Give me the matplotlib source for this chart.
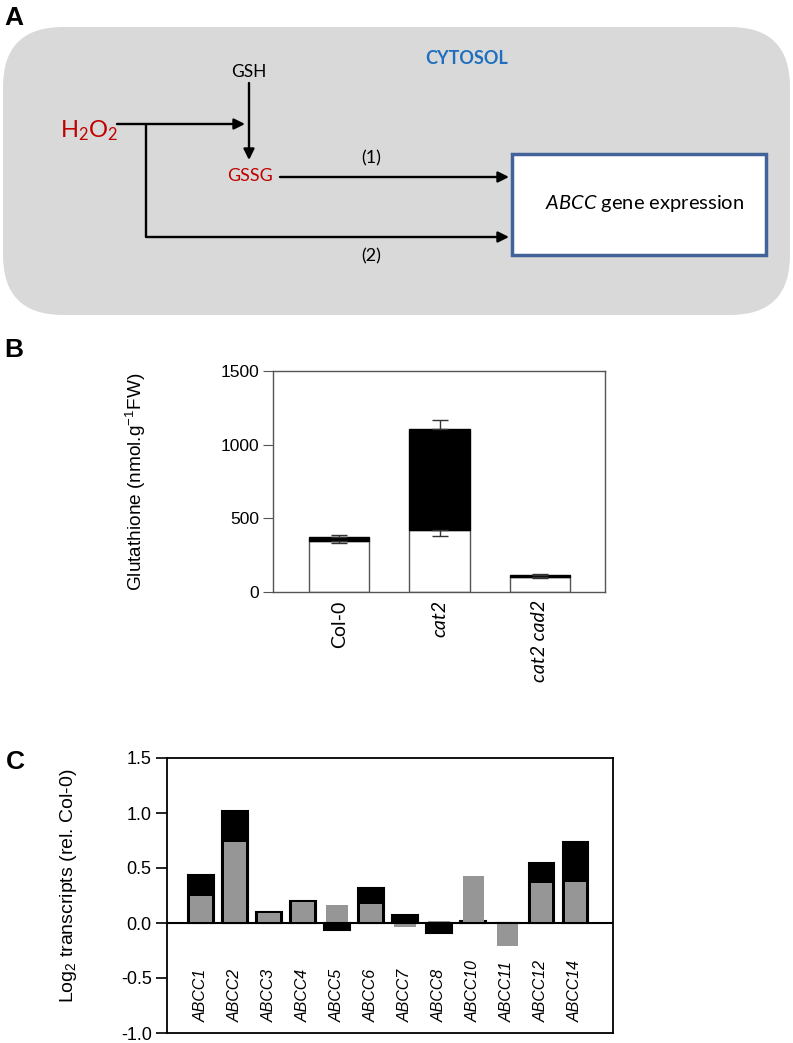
import numpy as np
import matplotlib.pyplot as plt
from matplotlib.patches import FancyBboxPatch, Rectangle

plt.rcParams['font.family'] = ['Liberation Sans', 'DejaVu Sans']
plt.rcParams['mathtext.fontset'] = 'custom'
plt.rcParams['mathtext.it'] = 'Lato:italic'
plt.rcParams['mathtext.rm'] = 'Lato'

# panel B: glutathione
genotypes = ["Col-0", "cat2", "cat2 cad2"]
gsh = np.array([347, 419, 103])        # reduced (white)
gssg = np.array([27, 689, 10])         # oxidised (black), stacked
gsh_err = np.array([14, 38, 8])
total_err = np.array([16, 59, 8])

# panel C: ABCC transcripts
genes = ["ABCC1", "ABCC2", "ABCC3", "ABCC4", "ABCC5", "ABCC6", "ABCC7",
         "ABCC8", "ABCC10", "ABCC11", "ABCC12", "ABCC14"]
cat2_vals = [0.44, 1.02, 0.10, 0.20, -0.06, 0.32, 0.07, -0.09, 0.02, 0.0, 0.55, 0.74]
other_vals = [0.25, 0.74, 0.09, 0.19, 0.16, 0.17, -0.04, 0.02, 0.43, -0.21, 0.36, 0.37]

W, H = 793, 1043
fig = plt.figure(figsize=(W / 100, H / 100), dpi=100)

# ---- panel A: scheme, drawn in pixel coordinates
ax0 = fig.add_axes([0, 0, 1, 1])
ax0.set_xlim(0, W)
ax0.set_ylim(H, 0)
ax0.axis("off")

ax0.add_patch(FancyBboxPatch((3, 27), 787, 288,
                             boxstyle="round,pad=0,rounding_size=60",
                             fc="#d9d9d9", ec="none"))
ax0.add_patch(Rectangle((512, 154), 254, 101, fc="white", ec="#41639a", lw=2.5))

diag = dict(family="Lato", ha="center", va="center")
red = "#c00000"
ax0.text(467, 59, "CYTOSOL", color="#1f6fbf", fontsize=13, weight="bold", **diag)
ax0.text(249, 72, "GSH", color="black", fontsize=12.5, **diag)
ax0.text(89, 131, r"$\mathregular{H_2O_2}$", color=red, fontsize=17, **diag)
ax0.text(250, 176, "GSSG", color=red, fontsize=13, **diag)
ax0.text(371, 158, "(1)", color="black", fontsize=13, **diag)
ax0.text(371, 256, "(2)", color="black", fontsize=13, **diag)
ax0.text(645, 203, r"$\mathit{ABCC}$ gene expression", color="black", fontsize=14.5, **diag)

arrow = dict(arrowstyle="-|>", lw=1.7, color="black", mutation_scale=16,
             shrinkA=0, shrinkB=0)
ax0.annotate("", xy=(245, 124), xytext=(117, 124), arrowprops=arrow)
ax0.annotate("", xy=(249, 160), xytext=(249, 83), arrowprops=arrow)
ax0.annotate("", xy=(509, 177), xytext=(280, 177), arrowprops=arrow)
ax0.plot([146, 146], [124, 237], color="black", lw=1.7, solid_capstyle="butt")
ax0.annotate("", xy=(509, 237), xytext=(146, 237), arrowprops=arrow)

for lab, (x, y) in zip("ABC", [(4, 18), (4, 350), (6, 762)]):
    ax0.text(x, y, lab, fontsize=19, weight="bold", ha="left", va="center")

# ---- panel B
axB = fig.add_axes([273 / W, 1 - 592 / H, 332 / W, 221 / H])
xb = np.arange(len(genotypes))
axB.bar(xb, gsh, width=0.6, color="white", edgecolor="#555555", lw=1, zorder=2)
axB.bar(xb, gssg, width=0.6, bottom=gsh, color="black", edgecolor="black", lw=1, zorder=2)
zeros = np.zeros_like(gsh_err)
axB.errorbar(xb, gsh, yerr=[gsh_err, zeros], fmt="none", ecolor="#333333",
             elinewidth=1, capsize=6, capthick=1, zorder=3)
axB.errorbar(xb, gsh + gssg, yerr=[zeros, total_err], fmt="none", ecolor="#333333",
             elinewidth=1, capsize=6, capthick=1, zorder=3)
axB.set_xlim(-0.66, 2.65)
axB.set_ylim(0, 1500)
axB.set_yticks([0, 500, 1000, 1500])
axB.tick_params(axis="y", direction="out", length=7, color="#555555", labelsize=12.5, pad=3)
axB.set_xticks(xb)
axB.set_xticklabels(genotypes, rotation=90, family="Lato", fontsize=14)
for t in axB.get_xticklabels()[1:]:
    t.set_style("italic")
axB.tick_params(axis="x", length=0, pad=6)
for s in axB.spines.values():
    s.set_color("#555555")
    s.set_linewidth(1)
axB.set_ylabel(r"Glutathione (nmol.g$\mathregular{^{-1}}$FW)", fontsize=13.7)
axB.yaxis.set_label_coords(-0.376, 0.5)

# ---- panel C
axC = fig.add_axes([167 / W, 1 - 1033 / H, 446 / W, 275 / H])
xc = np.arange(len(genes))
axC.bar(xc, cat2_vals, width=0.76, color="black", edgecolor="black", lw=1.5, zorder=2)
axC.bar(xc, other_vals, width=0.64, color="#969696", edgecolor="none", zorder=3)
axC.axhline(0, color="black", lw=1.5, zorder=4)
for x, g in zip(xc, genes):
    axC.text(x, -0.90, g, rotation=90, ha="center", va="bottom", fontsize=11.5,
             style="italic")
axC.set_xlim(-1.0, 12.1)
axC.set_ylim(-1.0, 1.5)
axC.set_xticks([])
axC.set_yticks([-1.0, -0.5, 0.0, 0.5, 1.0, 1.5])
axC.set_yticklabels(["-1.0", "-0.5", "0.0", "0.5", "1.0", "1.5"])
axC.tick_params(axis="y", direction="out", length=8, width=1.2, labelsize=13, pad=3)
for s in axC.spines.values():
    s.set_linewidth(1.3)
axC.set_ylabel(r"Log$\mathregular{_2}$ transcripts (rel. Col-0)", fontsize=14)
axC.yaxis.set_label_coords(-0.197, 0.535)

fig.savefig("out.png", dpi=100)
